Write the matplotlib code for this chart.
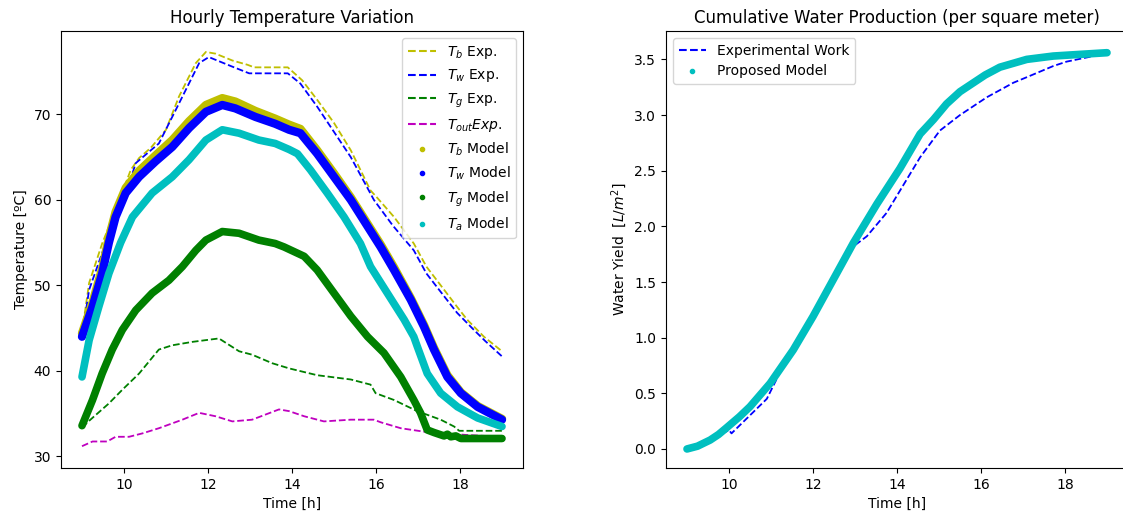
import matplotlib
matplotlib.use("Agg")
import matplotlib.pyplot as plt
from matplotlib.lines import Line2D

# ---------------- data ----------------
t_tb_exp = [9.0, 9.17, 9.48, 9.8, 10.16, 10.36, 10.64, 11.0, 11.31, 11.71, 11.95, 12.18, 12.58,
            12.94, 13.1, 13.9, 14.24, 14.6, 15.0, 15.4, 15.87, 16.02, 16.43, 16.9, 17.2, 17.62,
            17.93, 18.17, 18.57, 19.0]
tb_exp = [44.5, 50.3, 54.9, 58.8, 63.5, 64.9, 66.1, 68.2, 72.1, 76.0, 77.3, 77.1, 76.3,
          75.8, 75.5, 75.5, 74.0, 71.7, 69.0, 65.8, 61.1, 60.3, 58.0, 54.9, 52.2, 49.5,
          47.5, 46.0, 44.0, 42.3]

t_tw_exp = [9.0, 9.17, 9.56, 9.9, 10.28, 10.83, 11.23, 11.79, 12.02, 12.57, 12.98, 13.1, 13.9,
            14.2, 14.6, 15.4, 15.95, 16.4, 16.9, 17.2, 17.5, 17.93, 18.33, 18.6, 19.0]
tw_exp = [44.0, 49.5, 54.9, 58.5, 64.3, 66.6, 70.5, 76.0, 76.7, 75.6, 74.8, 74.8, 74.8,
          73.6, 70.9, 65.0, 60.0, 57.0, 54.1, 51.4, 49.5, 46.8, 44.8, 43.5, 41.7]

t_tg_exp = [9.0, 9.2, 9.64, 9.96, 10.36, 10.83, 11.15, 11.63, 12.26, 12.74, 13.05, 13.53, 13.93,
            14.6, 15.4, 15.87, 15.99, 16.43, 16.98, 17.54, 17.86, 17.98, 19.0]
tg_exp = [33.4, 34.3, 36.2, 37.8, 39.7, 42.5, 43.0, 43.4, 43.8, 42.3, 41.9, 40.9, 40.3,
          39.5, 39.0, 38.4, 37.4, 36.6, 35.3, 34.3, 33.5, 33.0, 33.0]

t_tout_exp = [9.0, 9.25, 9.6, 9.8, 10.12, 10.44, 10.83, 11.39, 11.79, 12.18, 12.58, 13.05, 13.37,
              13.69, 13.93, 14.29, 14.76, 15.4, 15.95, 16.11, 16.59, 17.14, 17.6, 18.2, 19.0]
tout_exp = [31.2, 31.75, 31.75, 32.3, 32.3, 32.7, 33.3, 34.3, 35.1, 34.7, 34.1, 34.3, 34.9,
            35.5, 35.3, 34.7, 34.1, 34.3, 34.3, 34.0, 33.3, 32.9, 32.7, 32.5, 32.3]

t_w_model = [9.0, 9.25, 9.48, 9.64, 9.8, 10.04, 10.36, 10.75, 11.15, 11.55, 11.95, 12.34, 12.65,
             13.13, 13.6, 13.93, 14.2, 14.6, 15.0, 15.4, 15.8, 16.11, 16.43, 16.83, 17.14, 17.38,
             17.7, 18.02, 18.42, 19.0]
tb_model = [44.4, 48.0, 52.0, 55.6, 58.6, 61.4, 63.4, 65.2, 67.0, 69.2, 71.1, 71.9, 71.5,
            70.4, 69.5, 68.8, 68.3, 65.8, 63.1, 60.3, 57.2, 54.8, 52.1, 48.5, 45.4, 42.7,
            39.5, 37.5, 35.9, 34.4]
tw_model = [44.0, 47.5, 51.4, 55.0, 58.0, 60.8, 62.7, 64.5, 66.2, 68.4, 70.3, 71.1, 70.7,
            69.7, 68.9, 68.2, 67.8, 65.4, 62.7, 60.0, 56.9, 54.5, 51.8, 48.3, 45.2, 42.5,
            39.3, 37.4, 35.8, 34.3]

t_ta_model = [9.0, 9.17, 9.4, 9.64, 9.92, 10.2, 10.67, 11.15, 11.55, 11.95, 12.34, 12.74, 13.21,
              13.6, 13.93, 14.13, 14.44, 14.84, 15.24, 15.63, 15.87, 16.27, 16.67, 16.9, 16.98,
              17.22, 17.54, 17.94, 18.42, 19.0]
ta_model = [39.3, 43.6, 47.5, 51.4, 55.0, 58.0, 60.8, 62.7, 64.7, 67.0, 68.2, 67.8, 67.0,
            66.6, 65.9, 65.4, 63.5, 60.8, 58.0, 54.9, 52.2, 49.1, 46.0, 44.0, 42.9,
            39.7, 37.4, 35.8, 34.5, 33.5]

t_tg_model = [9.0, 9.25, 9.48, 9.72, 9.96, 10.28, 10.67, 11.07, 11.39, 11.71, 11.95, 12.34, 12.74,
              13.21, 13.6, 13.81, 14.29, 14.6, 15.0, 15.4, 15.8, 16.19, 16.59, 16.9, 17.06, 17.22,
              17.38, 17.5, 17.62, 17.7, 17.78, 17.9, 18.02, 19.0]
tg_model = [33.6, 36.6, 39.7, 42.5, 44.8, 47.1, 49.1, 50.6, 52.2, 54.1, 55.3, 56.3, 56.1,
            55.3, 54.9, 54.5, 53.4, 51.8, 49.1, 46.4, 44.0, 42.1, 39.3, 36.6, 35.1, 33.1,
            32.8, 32.6, 32.4, 32.6, 32.3, 32.4, 32.1, 32.1]

t_yield_exp = [9.0, 9.5, 10.0, 10.06, 10.9, 11.4, 12.0, 12.5, 12.96, 13.28, 13.75, 14.07, 14.55,
               15.02, 15.5, 16.14, 16.77, 17.09, 17.72, 18.04, 18.68, 19.0]
yield_exp = [0.0, 0.07, 0.17, 0.14, 0.45, 0.83, 1.19, 1.52, 1.82, 1.91, 2.12, 2.32, 2.62,
             2.86, 3.0, 3.16, 3.29, 3.34, 3.44, 3.48, 3.53, 3.56]

t_yield_model = [9.0, 9.25, 9.55, 9.75, 9.94, 10.25, 10.5, 10.98, 11.53, 12.0, 12.48, 12.96,
                 13.52, 14.07, 14.55, 14.87, 15.18, 15.5, 15.82, 16.1, 16.45, 17.09, 17.72,
                 18.36, 19.0]
yield_model = [0.0, 0.025, 0.08, 0.13, 0.19, 0.29, 0.38, 0.59, 0.89, 1.19, 1.52, 1.85,
               2.2, 2.52, 2.83, 2.96, 3.10, 3.21, 3.29, 3.36, 3.43, 3.50, 3.53,
               3.545, 3.56]

# ---------------- figure ----------------
fig = plt.figure(figsize=(11.23, 5.16), dpi=100)
ax1 = fig.add_axes([61 / 1123, 48 / 516, 462 / 1123, 437 / 516])
ax2 = fig.add_axes([666 / 1123, 48 / 516, 462 / 1123, 437 / 516])

ax1.plot(t_tb_exp, tb_exp, 'y--', lw=1.3)
ax1.plot(t_tw_exp, tw_exp, 'b--', lw=1.3)
ax1.plot(t_tg_exp, tg_exp, 'g--', lw=1.3)
ax1.plot(t_tout_exp, tout_exp, 'm--', lw=1.3)
mw = 6.0
ax1.plot(t_w_model, tb_model, color='y', lw=mw, solid_capstyle='round', solid_joinstyle='round')
ax1.plot(t_w_model, tw_model, color='b', lw=mw, solid_capstyle='round', solid_joinstyle='round')
ax1.plot(t_tg_model, tg_model, color='g', lw=5.5, solid_capstyle='round', solid_joinstyle='round')
ax1.plot(t_ta_model, ta_model, color='c', lw=5.5, solid_capstyle='round', solid_joinstyle='round')

handles1 = [
    Line2D([], [], color='y', ls='--', label='$T_b$ Exp.'),
    Line2D([], [], color='b', ls='--', label='$T_w$ Exp.'),
    Line2D([], [], color='g', ls='--', label='$T_g$ Exp.'),
    Line2D([], [], color='m', ls='--', label='$T_{out} Exp.$'),
    Line2D([], [], color='y', ls='none', marker='.', label='$T_b$ Model'),
    Line2D([], [], color='b', ls='none', marker='.', label='$T_w$ Model'),
    Line2D([], [], color='g', ls='none', marker='.', label='$T_g$ Model'),
    Line2D([], [], color='c', ls='none', marker='.', label='$T_a$ Model'),
]
ax1.legend(handles=handles1, loc='upper right')
ax1.set_xlim(8.5, 19.5)
ax1.set_ylim(28.65, 79.75)
ax1.set_xticks([10, 12, 14, 16, 18])
ax1.set_title('Hourly Temperature Variation')
ax1.set_xlabel('Time [h]')
ax1.set_ylabel('Temperature [ºC]')

ax2.plot(t_yield_exp, yield_exp, 'b--', lw=1.3)
ax2.plot(t_yield_model, yield_model, color='c', lw=5.5, solid_capstyle='round', solid_joinstyle='round')
handles2 = [
    Line2D([], [], color='b', ls='--', label='Experimental Work'),
    Line2D([], [], color='c', ls='none', marker='.', label='Proposed Model'),
]
ax2.legend(handles=handles2, loc='upper left')
ax2.set_xlim(8.5, 19.5)
ax2.set_ylim(-0.171, 3.755)
ax2.set_xticks([10, 12, 14, 16, 18])
ax2.set_title('Cumulative Water Production (per square meter)')
ax2.set_xlabel('Time [h]')
ax2.set_ylabel('Water Yield  [$L/m^2$]')

fig.savefig('out.png', dpi=100)
